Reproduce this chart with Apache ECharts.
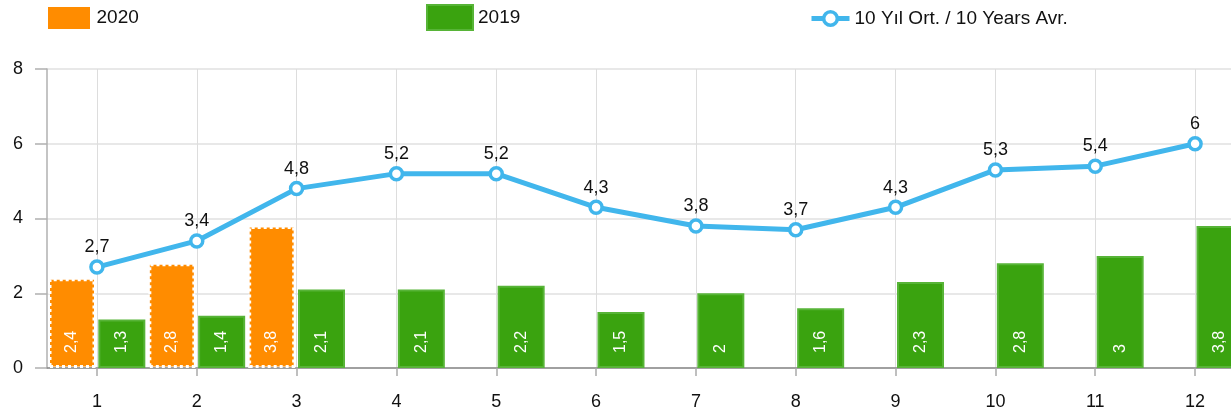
<!DOCTYPE html>
<html><head><meta charset="utf-8">
<script src="https://cdn.jsdelivr.net/npm/echarts@6/dist/echarts.min.js"></script>
<style>html,body{margin:0;padding:0;background:#fff}#c{width:1231px;height:419px}</style>
</head><body><div id="c"></div>
<script>
const categories = ['1','2','3','4','5','6','7','8','9','10','11','12'];
const seriesNames = ['2020', '2019', '10 Yıl Ort. / 10 Years Avr.'];
const data2020 = [2.4, 2.8, 3.8, null, null, null, null, null, null, null, null, null];
const data2019 = [1.3, 1.4, 2.1, 2.1, 2.2, 1.5, 2, 1.6, 2.3, 2.8, 3, 3.8];
const dataAvg = [2.7, 3.4, 4.8, 5.2, 5.2, 4.3, 3.8, 3.7, 4.3, 5.3, 5.4, 6];
const yTicks = {min: 0, max: 8, interval: 2};

const FONT = "'Liberation Sans', Arial, sans-serif";
const fmt = p => String(p.value).replace('.', ',');
const legendText = {fontSize: 19, color: '#111', fontFamily: FONT};
const legendCommon = {
  padding: 0, itemGap: 0, textStyle: legendText,
  icon: 'rect',
  itemStyle: {borderWidth: 'inherit'},
  lineStyle: {width: 'inherit'}
};

const chart = echarts.init(document.getElementById('c'));
chart.setOption({
  animation: false,
  textStyle: {fontFamily: FONT},
  legend: [
    Object.assign({}, legendCommon, {left: 45, top: 4, itemWidth: 45, itemHeight: 25, data: [seriesNames[0]]}),
    Object.assign({}, legendCommon, {left: 426, top: 4, itemWidth: 46, itemHeight: 25, data: [seriesNames[1]]}),
    Object.assign({}, legendCommon, {left: 809, top: 9, itemWidth: 38, itemHeight: 17, data: [seriesNames[2]], icon: undefined})
  ],
  grid: {left: 47, top: 69, width: 1198, height: 299, outerBoundsMode: 'none', containLabel: false},
  xAxis: {
    type: 'category',
    data: categories,
    boundaryGap: true,
    axisLine: {show: true, lineStyle: {color: '#888', width: 1.5}},
    axisTick: {show: true, alignWithLabel: true, length: 8, lineStyle: {color: '#aaa', width: 1.5}},
    axisLabel: {fontSize: 18, color: '#111', margin: 25, fontFamily: FONT},
    splitLine: {show: true, alignWithLabel: true, lineStyle: {color: '#ddd', width: 1}}
  },
  yAxis: {
    type: 'value',
    min: yTicks.min, max: yTicks.max, interval: yTicks.interval,
    axisLine: {show: true, lineStyle: {color: '#b0b0b0', width: 1.5}},
    axisTick: {show: true, length: 12, lineStyle: {color: '#b0b0b0', width: 1.5}},
    axisLabel: {fontSize: 18, color: '#111', margin: 24, fontFamily: FONT},
    splitLine: {show: true, lineStyle: {color: '#e0e0e0', width: 1.5}}
  },
  series: [
    {
      name: seriesNames[0], type: 'bar', data: data2020,
      barWidth: 47, barGap: '6%',
      itemStyle: {color: '#ff8c00', borderColor: '#ffffff', borderWidth: 3, borderType: [3, 3]},
      label: {show: true, position: 'insideBottom', distance: 15, rotate: 90, align: 'left', verticalAlign: 'middle',
        color: '#fff', fontSize: 16, fontFamily: FONT, formatter: fmt}
    },
    {
      name: seriesNames[1], type: 'bar', data: data2019,
      barWidth: 47, barGap: '6%',
      itemStyle: {color: '#3aa30f', borderColor: '#57b437', borderWidth: 2},
      label: {show: true, position: 'insideBottom', distance: 15, rotate: 90, align: 'left', verticalAlign: 'middle',
        color: '#fff', fontSize: 16, fontFamily: FONT, formatter: fmt}
    },
    {
      name: seriesNames[2], type: 'line', data: dataAvg,
      z: 5,
      lineStyle: {color: '#41b6ec', width: 5},
      itemStyle: {color: '#ffffff', borderColor: '#41b6ec', borderWidth: 3.5},
      symbol: 'circle', symbolSize: 12, showAllSymbol: true,
      label: {show: true, position: 'top', distance: 3, color: '#111', fontSize: 18, fontFamily: FONT, formatter: fmt}
    }
  ]
});
</script></body></html>
